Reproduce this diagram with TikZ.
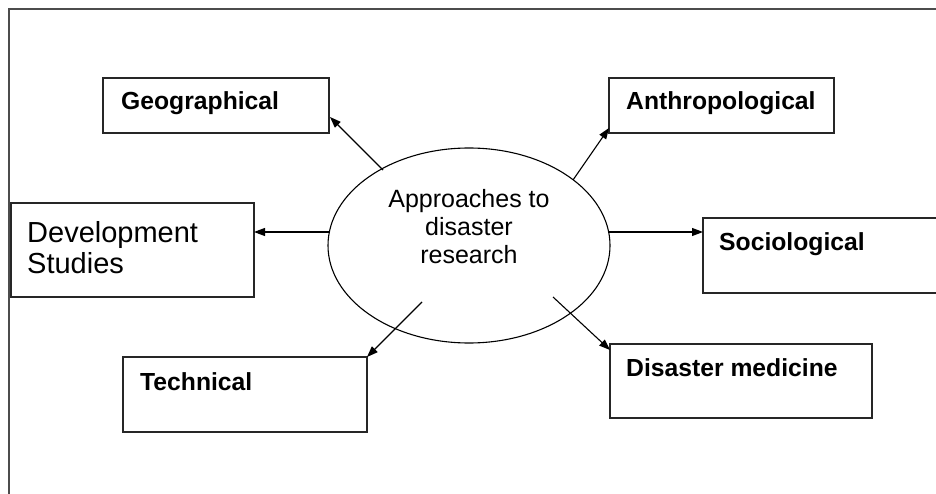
\documentclass[tikz,border=0pt]{standalone}
\usepackage{fontspec}
\setmainfont{Liberation Sans}
\usetikzlibrary{arrows.meta,shapes.geometric}
\tikzset{
  boxnode/.style={draw=black!85,line width=1.4pt,rectangle,inner sep=0pt},
  lbl/.style={inner sep=0pt,anchor=base west,font=\fontsize{24.7}{28}\selectfont\bfseries},
  arr/.style={line width=1.1pt,-{Triangle[length=11pt,width=8pt]}},
  framel/.style={draw=black!70,line width=1.6pt}
}
\begin{document}
\begin{tikzpicture}[x=1pt,y=-1pt]
\useasboundingbox (0,0) rectangle (936,494);
\clip (0,0) rectangle (936,494);
% frame
\coordinate (fa) at (9,520);
\coordinate (fb) at (9,9);
\coordinate (fc) at (960,9);
\draw[framel] (fa) -- (fb) -- (fc);
% centre
\node[draw,ellipse,line width=1.1pt,minimum width=282pt,minimum height=195pt,inner sep=0pt] (c) at (469,245.5) {};
\node[inner sep=0pt,align=center,anchor=base,font=\fontsize{25}{28}\selectfont] (ct) at (469,263) {Approaches to\\disaster\\research};
% boxes
\node[boxnode,minimum width=226pt,minimum height=55pt] (geo) at (216,105.5) {};
\node[boxnode,minimum width=225pt,minimum height=55pt] (ant) at (721.5,105.5) {};
\node[boxnode,minimum width=243pt,minimum height=94pt] (dev) at (132.5,250) {};
\node[boxnode,minimum width=257pt,minimum height=75pt] (soc) at (831.5,255.5) {};
\node[boxnode,minimum width=244pt,minimum height=75pt] (tec) at (245,394.5) {};
\node[boxnode,minimum width=262pt,minimum height=74pt] (med) at (741,381) {};
% labels
\node[lbl] (geoT) at (121,110) {Geographical};
\node[lbl] (antT) at (626,110) {Anthropological};
\node[lbl] (socT) at (719,251) {Sociological};
\node[lbl] (tecT) at (140,390) {Technical};
\node[lbl] (medT) at (626,376) {Disaster medicine};
\node[inner sep=0pt,anchor=base west,align=left,font=\fontsize{29}{31}\selectfont] (devT) at (27,273) {Development\\Studies};
% arrows
\coordinate (g1) at (383,170); \coordinate (g2) at (330,117);
\coordinate (a1) at (573,180); \coordinate (a2) at (609,128);
\coordinate (d1) at (329,232); \coordinate (d2) at (254,232);
\coordinate (s1) at (608,232); \coordinate (s2) at (703,232);
\coordinate (t1) at (422,302); \coordinate (t2) at (367,357);
\coordinate (m1) at (553,297); \coordinate (m2) at (610,350);
\draw[arr] (g1) -- (g2);
\draw[arr] (a1) -- (a2);
\draw[arr] (d1) -- (d2);
\draw[arr] (s1) -- (s2);
\draw[arr] (t1) -- (t2);
\draw[arr] (m1) -- (m2);
\end{tikzpicture}
\end{document}
